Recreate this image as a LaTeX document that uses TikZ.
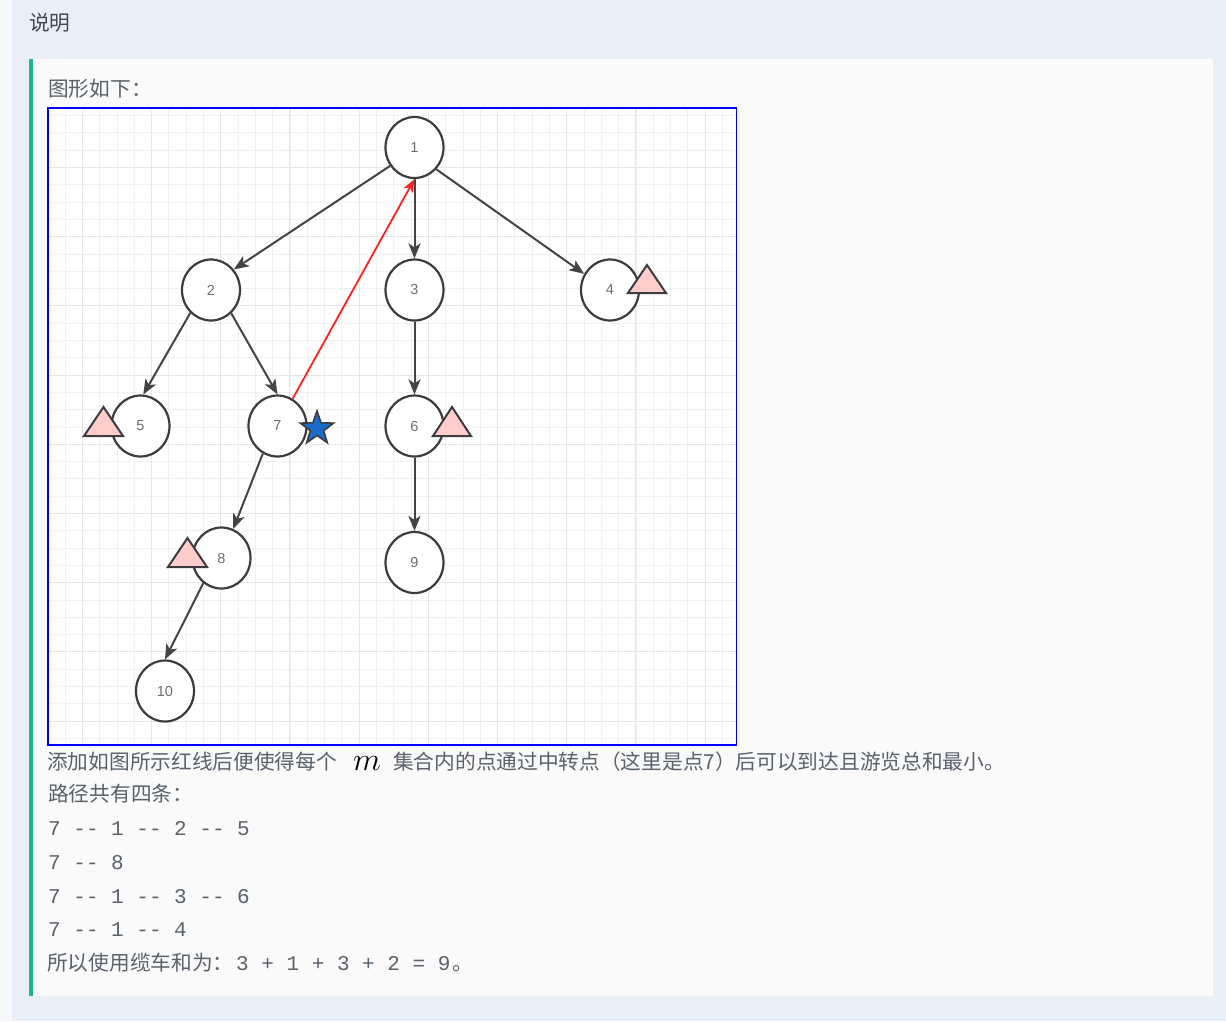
\documentclass[tikz,border=0pt]{standalone}
\usepackage{fontspec}
\usetikzlibrary{shapes.geometric,arrows.meta}
\newfontfamily\cjk{Noto Sans CJK SC}
\newfontfamily\monof{Liberation Mono}
\newfontfamily\vfont{Liberation Sans}
\definecolor{pagebg}{HTML}{F7F8FA}
\definecolor{headbg}{HTML}{EAEFF7}
\definecolor{panelbg}{HTML}{FAFAFA}
\definecolor{barcol}{HTML}{1FB58C}
\definecolor{txtcol}{HTML}{59616B}
\definecolor{headtxt}{HTML}{3F4A57}
\definecolor{gridminor}{HTML}{F1F1F1}
\definecolor{gridmajor}{HTML}{E6E6E6}
\definecolor{vline}{HTML}{3C3C3C}
\definecolor{vlab}{HTML}{6E6E6E}
\definecolor{edgecol}{HTML}{444444}
\definecolor{redcol}{HTML}{FF2020}
\definecolor{tripink}{HTML}{FFCCCC}
\definecolor{starblue}{HTML}{1B6BC9}
\tikzset{
  vtx/.style={ellipse, draw=vline, line width=2.2pt, fill=white,
    minimum width=58pt, minimum height=61pt, inner sep=0pt,
    font=\vfont\fontsize{14.5}{16}\selectfont, text=vlab},
  edge/.style={draw=edgecol, line width=2pt,
    -{Stealth[length=15pt,width=12pt,inset=4pt]}},
  redge/.style={draw=redcol, line width=1.8pt,
    -{Stealth[length=13pt,width=10pt,inset=3.5pt]}},
  tri/.style={fill=tripink, draw=vline, line width=2pt, line join=miter},
  cjktxt/.style={anchor=base west, inner sep=0pt, text=txtcol,
    font=\cjk\fontsize{20.7}{24}\selectfont},
  monotxt/.style={anchor=base west, inner sep=0pt, text=txtcol,
    font=\monof\fontsize{21}{24}\selectfont},
  starsty/.style={star, star points=5, star point ratio=2.5,
    minimum size=35pt, inner sep=0pt, fill=starblue, draw=vline, line width=1.6pt}
}
\begin{document}
\begin{tikzpicture}[x=1pt,y=-1pt]
\useasboundingbox (0,0) rectangle (1226,1021);
% backgrounds
\fill[pagebg] (0,0) rectangle (1226,1021);
\fill[headbg] (12,0) rectangle (1226,1021);
\fill[panelbg] (30,59) rectangle (1213,996);
\fill[barcol] (29,59) rectangle (33,996);
% header texts
\node[cjktxt, text=headtxt] (hd) at (29,30.5) {说明};
\node[cjktxt] (intro) at (48,96) {图形如下：};
% frame and grid
\fill[white] (48,108) rectangle (736.5,745);
\begin{scope}
\clip (48,108) rectangle (736.5,745);
\foreach \i in {-1,...,40} {
  \pgfmathsetmacro{\xx}{floor(82.4+17.3*\i)+0.5}
  \draw[gridminor, line width=1pt] (\xx,108) -- (\xx,745);
}
\foreach \i in {-1,...,38} {
  \pgfmathsetmacro{\yy}{floor(98.3+17.3*\i)+0.5}
  \draw[gridminor, line width=1pt] (48,\yy) -- (736.5,\yy);
}
\foreach \i in {0,...,10} {
  \pgfmathsetmacro{\xx}{floor(82.4+69.2*\i)+0.5}
  \draw[gridmajor, line width=1pt] (\xx,108) -- (\xx,745);
}
\foreach \i in {-1,...,10} {
  \pgfmathsetmacro{\yy}{floor(98.3+69.2*\i)+0.5}
  \draw[gridmajor, line width=1pt] (48,\yy) -- (736.5,\yy);
}
\end{scope}
\draw[blue, line width=1.5pt] (48,108) rectangle (736.5,745);
% vertices
\node[vtx] (n1) at (414.5,147.5) {1};
\node[vtx] (n2) at (211,290) {2};
\node[vtx] (n3) at (414.5,290) {3};
\node[vtx] (n4) at (610,290) {4};
\node[vtx] (n5) at (140.5,426) {5};
\node[vtx] (n7) at (277.5,426) {7};
\node[vtx] (n6) at (414.5,426) {6};
\node[vtx] (n8) at (221.5,558) {8};
\node[vtx] (n9) at (414.5,562.5) {9};
\node[vtx] (n10) at (165,691) {10};
% edges
\draw[edge] (n1.-143) -- (n2.42);
\draw[edge] (n1) -- (n3);
\draw[edge] (n1.-45) -- (n4.148);
\draw[edge] (n2.-132) -- (n5.85);
\draw[edge] (n2.-49) -- (n7.north);
\draw[edge] (n3) -- (n6);
\draw[edge] (n6) -- (n9);
\draw[edge] (n7.-118) -- (n8.68);
\draw[edge] (n8.-126) -- (n10.north);
\draw[redge] (n7) -- (n1.south);
% marks
\draw[tri] (628,293) -- (666,293) -- (647,265) -- cycle;
\draw[tri] (84,436) -- (123,436) -- (103.5,407) -- cycle;
\draw[tri] (433,436) -- (471,436) -- (452,407) -- cycle;
\draw[tri] (168,567) -- (207,567) -- (187.5,538) -- cycle;
\node[starsty] (st) at (317,428.5) {};
% texts below
\node[cjktxt] (l1a) at (47,769.5) {添加如图所示红线后便使得每个};
\node[anchor=base, inner sep=0pt, scale=1.3, font=\fontsize{24.88}{28}\selectfont] (l1m) at (367,770.5) {$m$};
\node[cjktxt] (l1b) at (393,769.5) {集合内的点通过中转点（这里是点7）后可以到达且游览总和最小。};
\node[cjktxt] (l2) at (48,801.5) {路径共有四条：};
\node[monotxt] (p1) at (48,835.2) {7 -{}- 1 -{}- 2 -{}- 5};
\node[monotxt] (p2) at (48,869.2) {7 -{}- 8};
\node[monotxt] (p3) at (48,903.2) {7 -{}- 1 -{}- 3 -{}- 6};
\node[monotxt] (p4) at (48,936.4) {7 -{}- 1 -{}- 4};
\node[cjktxt] (l3a) at (47,970.5) {所以使用缆车和为：};
\node[monotxt] (l3b) at (236,970) {3 + 1 + 3 + 2 = 9};
\node[cjktxt, anchor=base west] (l3c) at ([xshift=2pt]l3b.base east) {。};
\end{tikzpicture}
\end{document}
